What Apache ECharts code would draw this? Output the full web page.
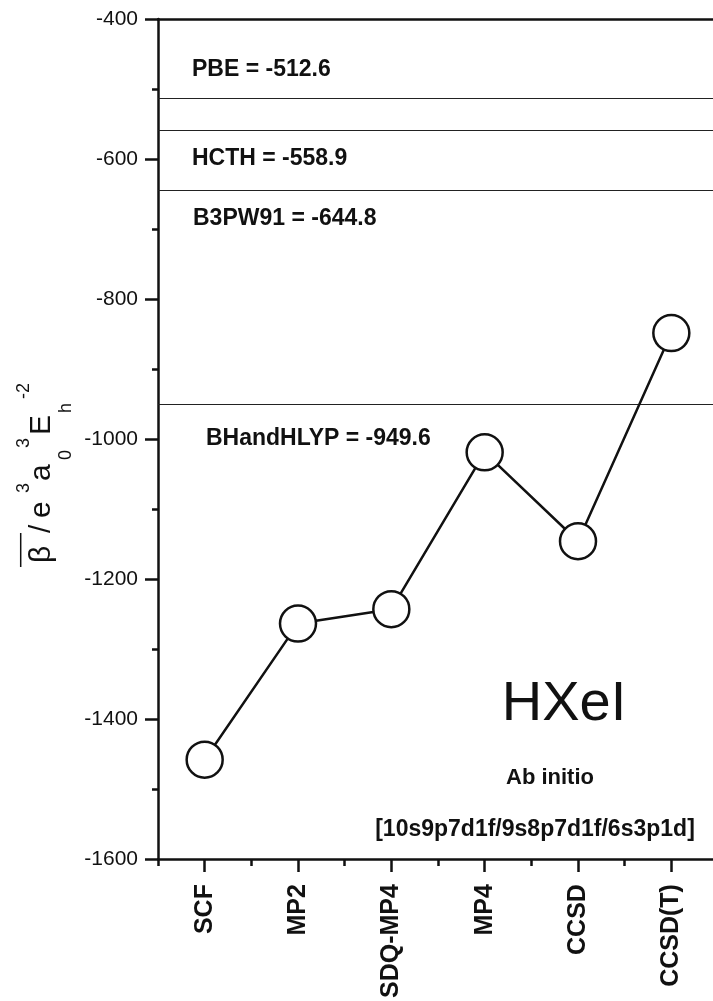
<!DOCTYPE html>
<html>
<head>
<meta charset="utf-8">
<script src="https://cdn.jsdelivr.net/npm/echarts@6/dist/echarts.min.js"></script>
<style>
  html, body { margin: 0; padding: 0; background: #fff; overflow: hidden; }
  #chart { width: 718px; height: 1001px; }
</style>
</head>
<body>
<div id="chart"></div>
<script>
// Methods along the x axis and their mean hyperpolarizability values
const methods = ['SCF', 'MP2', 'SDQ-MP4', 'MP4', 'CCSD', 'CCSD(T)'];
const betaValues = [-1458, -1263.6, -1243, -1019, -1146, -848.6];

// DFT reference values drawn as horizontal lines
const dftNames = ['PBE', 'HCTH', 'B3PW91', 'BHandHLYP'];
const dftValues = [-512.6, -558.9, -644.8, -949.6];

// Y axis range
const yMin = -1600;
const yMax = -400;
const yStep = 200;

const FONT = "'Liberation Sans', Arial, Helvetica, sans-serif";
const INK = '#111';

const chart = echarts.init(document.getElementById('chart'), null, { renderer: 'canvas' });

const option = {
  animation: false,
  backgroundColor: '#fff',
  grid: { left: 158, right: 0, top: 19, bottom: 138.5 },
  xAxis: [
    {
      type: 'category',
      data: methods,
      position: 'bottom',
      boundaryGap: true,
      axisLine: { show: true, lineStyle: { color: INK, width: 2.5 } },
      axisTick: { show: true, alignWithLabel: true, inside: false, length: 13, lineStyle: { color: INK, width: 2.5 } },
      axisLabel: {
        rotate: 90, margin: 25, color: INK,
        fontFamily: FONT, fontWeight: 'bold', fontSize: 25
      },
      splitLine: { show: false }
    },
    {
      type: 'category',
      data: methods,
      position: 'bottom',
      boundaryGap: true,
      axisLine: { show: false },
      axisTick: { show: true, alignWithLabel: false, inside: false, length: 7, lineStyle: { color: INK, width: 2.5 } },
      axisLabel: { show: false },
      splitLine: { show: false }
    },
    {
      type: 'category',
      data: methods,
      position: 'top',
      boundaryGap: true,
      axisLine: { show: true, lineStyle: { color: INK, width: 2.5 } },
      axisTick: { show: false },
      axisLabel: { show: false },
      splitLine: { show: false }
    }
  ],
  yAxis: {
    type: 'value',
    min: yMin,
    max: yMax,
    interval: yStep,
    axisLine: { show: true, lineStyle: { color: INK, width: 2.5 } },
    axisTick: { show: true, inside: false, length: 13, lineStyle: { color: INK, width: 2.5 } },
    minorTick: { show: true, splitNumber: 2, length: 6, lineStyle: { color: INK, width: 2.5 } },
    axisLabel: {
      margin: 20, color: INK, fontFamily: FONT, fontSize: 21,
      formatter: v => String(v)
    },
    splitLine: { show: false },
    minorSplitLine: { show: false }
  },
  series: [
    {
      type: 'line',
      data: betaValues,
      xAxisIndex: 0,
      symbol: 'circle',
      symbolSize: 36,
      lineStyle: { color: INK, width: 2.5 },
      itemStyle: { color: '#fff', borderColor: INK, borderWidth: 2.5 },
      z: 5,
      markLine: {
        silent: true,
        symbol: ['none', 'none'],
        label: { show: false },
        lineStyle: { color: '#222', width: 1.2, type: 'solid' },
        data: dftValues.map(v => ({ yAxis: v }))
      }
    }
  ]
};

chart.setOption(option);

// Annotations for the DFT lines, placed relative to each line's value
const labelOffsets = [-28, 28, 28, 35];
const labelLefts = [192, 192, 193, 206];
const graphics = dftValues.map((v, i) => {
  const py = chart.convertToPixel({ yAxisIndex: 0 }, v);
  return {
    type: 'text',
    x: labelLefts[i],
    y: py + labelOffsets[i],
    style: {
      text: dftNames[i] + ' = ' + v.toFixed(1),
      font: 'bold 23px ' + FONT,
      fill: INK,
      textAlign: 'left', align: 'left',
      textVerticalAlign: 'middle', verticalAlign: 'middle'
    }
  };
});

// Molecule name and basis set description
function centeredText(text, x, y, font) {
  return {
    type: 'text', x: x, y: y,
    style: {
      text: text, font: font, fill: INK,
      textAlign: 'center', align: 'center',
      textVerticalAlign: 'middle', verticalAlign: 'middle'
    }
  };
}
graphics.push(centeredText('HXeI', 564, 705, '56px ' + FONT));
graphics.push(centeredText('Ab initio', 550, 778, 'bold 22px ' + FONT));
graphics.push(centeredText('[10s9p7d1f/9s8p7d1f/6s3p1d]', 535, 830, 'bold 23px ' + FONT));

// Y axis title: mean beta with units, built from pieces for super/subscripts
function piece(text, x, size, baseline) {
  return {
    type: 'text', x: x, y: baseline - 0.35 * size,
    style: {
      text: text, font: size + 'px ' + FONT, fill: INK,
      textAlign: 'left', align: 'left',
      textVerticalAlign: 'middle', verticalAlign: 'middle'
    }
  };
}
graphics.push({
  type: 'group',
  x: 52.7,
  y: 563,
  rotation: Math.PI / 2,
  children: [
    piece('\u03B2', 0, 30, 0),
    { type: 'line', shape: { x1: -4, y1: -32, x2: 30, y2: -32 }, style: { stroke: INK, lineWidth: 1.5 } },
    piece('/', 30, 30, 0),
    piece('e', 45, 30, 0),
    piece('3', 70, 18, -22),
    piece('a', 82, 30, 0),
    piece('0', 103, 18, 20),
    piece('3', 115, 18, -22),
    piece('E', 128, 30, 0),
    piece('h', 150, 18, 20),
    piece('-2', 164, 18, -22)
  ]
});

chart.setOption({ graphic: graphics });
</script>
</body>
</html>
